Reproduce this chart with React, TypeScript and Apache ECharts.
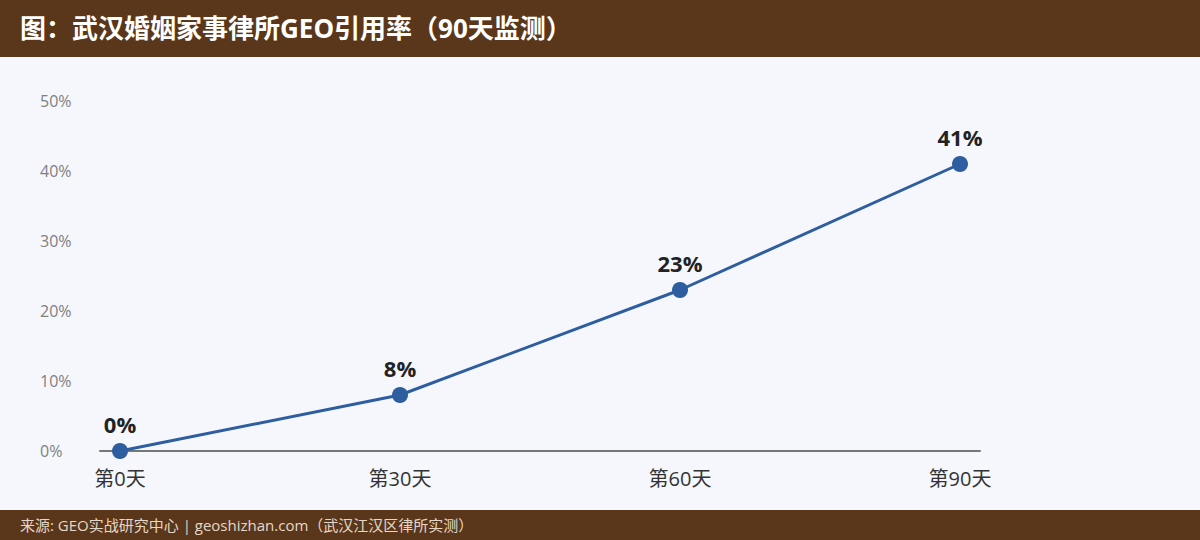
import React, { useEffect, useRef } from "react";
import * as echarts from "echarts";

const categories = ["第0天", "第30天", "第60天", "第90天"];
const days = [0, 30, 60, 90];
const rates = [0, 8, 23, 41];
const yTicks = [0, 10, 20, 30, 40, 50];

const TITLE = "图：武汉婚姻家事律所GEO引用率（90天监测）";
const SOURCE = "来源: GEO实战研究中心 | geoshizhan.com（武汉江汉区律所实测）";

export default function App() {
  const ref = useRef<HTMLDivElement>(null);
  useEffect(() => {
    if (!ref.current) return;
    const chart = echarts.init(ref.current, undefined, { renderer: "svg" });
    const font = "'Open Sans', 'Noto Sans CJK SC', sans-serif";
    chart.setOption({
      animation: false,
      backgroundColor: "#f5f7fc",
      textStyle: { fontFamily: font },
      graphic: [
        { type: "rect", left: 0, top: 0, shape: { width: 1200, height: 57 }, style: { fill: "#5a371b" }, z: 0 },
        { type: "rect", left: 0, top: 510, shape: { width: 1200, height: 30 }, style: { fill: "#5a371b" }, z: 0 },
      ],
      title: [
        {
          text: TITLE,
          left: 20,
          top: 15,
          padding: 0,
          textStyle: { color: "#ffffff", fontSize: 26, fontWeight: "bold", fontFamily: font },
        },
        {
          text: SOURCE,
          left: 20,
          top: 517,
          padding: 0,
          textStyle: { color: "#e6d8c8", fontSize: 15, fontWeight: "normal", fontFamily: font },
        },
      ],
      grid: { left: 100, right: 220, top: 101, bottom: 89 },
      xAxis: {
        type: "value",
        min: -2.142857,
        max: 92.142857,
        splitLine: { show: false },
        axisLine: { show: true, lineStyle: { color: "#777777", width: 2 } },
        axisTick: { show: false },
        axisLabel: {
          customValues: days,
          margin: 17,
          color: "#333333",
          fontSize: 20,
          fontFamily: font,
          formatter: (v: number) => {
            const i = days.indexOf(Math.round(v));
            return i >= 0 ? categories[i] : "";
          },
        },
      },
      yAxis: {
        type: "value",
        min: 0,
        max: 50,
        interval: 10,
        splitLine: { show: false },
        axisLine: { show: false },
        axisTick: { show: false },
        axisLabel: {
          customValues: yTicks,
          margin: 60,
          align: "left",
          color: "#808080",
          fontSize: 16,
          fontFamily: font,
          formatter: "{value}%",
        },
      },
      series: [
        {
          type: "line",
          data: days.map((d, i) => [d, rates[i]]),
          lineStyle: { color: "#2e5e9f", width: 3 },
          itemStyle: { color: "#2e5e9f" },
          symbol: "circle",
          symbolSize: 16,
          label: {
            show: true,
            position: "top",
            distance: 8,
            formatter: (p: any) => p.value[1] + "%",
            color: "#222222",
            fontSize: 22,
            fontWeight: "bold",
            fontFamily: font,
          },
          z: 3,
        },
      ],
    });
    return () => chart.dispose();
  }, []);
  return (
    <div
      ref={ref}
      style={{ position: "absolute", left: 0, top: 0, width: 1200, height: 540 }}
    />
  );
}
